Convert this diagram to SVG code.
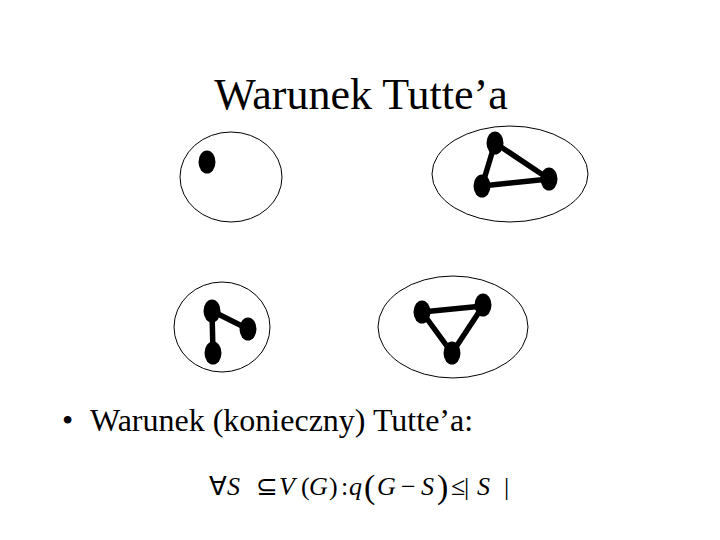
<svg xmlns="http://www.w3.org/2000/svg" width="720" height="540" viewBox="0 0 720 540">
<style>
.t{font-family:'Liberation Serif','Times New Roman',Times,serif;fill:#000}
.i{font-style:italic}
.comp{fill:none;stroke:#000;stroke-width:1}
.v{fill:#000}
.e{stroke:#000;stroke-width:5.5;stroke-linecap:round}
</style>
<rect width="720" height="540" fill="#fff"/>
<text class="t" font-family="Liberation Serif, serif" x="361" y="109" font-size="44" text-anchor="middle">Warunek Tutte’a</text>
<g id="comp1">
<ellipse class="comp" cx="231" cy="177" rx="51" ry="45"/>
<ellipse class="v" cx="207" cy="162" rx="8.5" ry="11.5"/>
</g>
<g id="comp2">
<ellipse class="comp" cx="510" cy="174" rx="78" ry="48"/>
<g class="connectors">
<line class="e" x1="495" y1="143" x2="482" y2="186"/>
<line class="e" x1="495" y1="143" x2="549" y2="179"/>
<line class="e" x1="482" y1="186" x2="549" y2="179"/>
</g>
<ellipse class="v" cx="495" cy="143" rx="8.5" ry="11.5"/>
<ellipse class="v" cx="482" cy="186" rx="8.5" ry="11.5"/>
<ellipse class="v" cx="549" cy="179" rx="8.5" ry="11.5"/>
</g>
<g id="comp3">
<ellipse class="comp" cx="222" cy="327" rx="48" ry="45"/>
<g class="connectors">
<line class="e" x1="212" y1="311" x2="213" y2="353"/>
<line class="e" x1="212" y1="311" x2="248" y2="329"/>
</g>
<ellipse class="v" cx="212" cy="311" rx="8.5" ry="11.5"/>
<ellipse class="v" cx="248" cy="329" rx="8.5" ry="11.5"/>
<ellipse class="v" cx="213" cy="353" rx="8.5" ry="11.5"/>
</g>
<g id="comp4">
<ellipse class="comp" cx="453" cy="327" rx="75" ry="51"/>
<g class="connectors">
<line class="e" x1="422" y1="312" x2="483" y2="306"/>
<line class="e" x1="422" y1="312" x2="452" y2="353"/>
<line class="e" x1="483" y1="306" x2="452" y2="353"/>
</g>
<ellipse class="v" cx="422" cy="312" rx="8.5" ry="11.5"/>
<ellipse class="v" cx="483" cy="305" rx="8.5" ry="11.5"/>
<ellipse class="v" cx="452" cy="353" rx="8.5" ry="11.5"/>
</g>
<text class="t" font-family="Liberation Serif, serif" font-size="32" y="431"><tspan x="62">•</tspan><tspan x="90">Warunek (konieczny) Tutte’a:</tspan></text>
<text id="formula" class="t" font-family="Liberation Serif, serif" font-size="26" y="495"><tspan x="209">∀</tspan><tspan class="i" x="227">S</tspan><tspan x="256">⊆</tspan><tspan class="i" x="279">V</tspan><tspan x="301">(</tspan><tspan class="i" x="309">G</tspan><tspan x="329">)</tspan><tspan x="341">:</tspan><tspan class="i" x="349">q</tspan><tspan x="364" font-size="34" dy="3">(</tspan><tspan class="i" x="377" dy="-3">G</tspan><tspan x="401">−</tspan><tspan class="i" x="421">S</tspan><tspan x="437" font-size="34" dy="3">)</tspan><tspan x="451" dy="-3">≤</tspan><tspan x="464">|</tspan><tspan class="i" x="477">S</tspan><tspan x="504">|</tspan></text>
</svg>
